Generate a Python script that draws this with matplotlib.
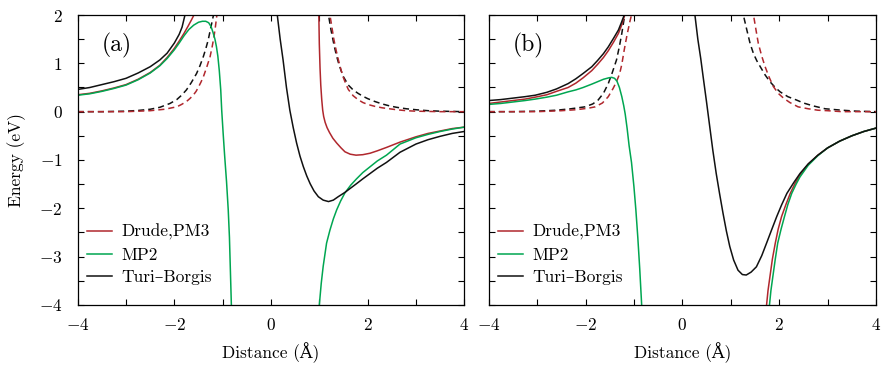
import matplotlib
matplotlib.use("Agg")
import matplotlib.pyplot as plt
from matplotlib.ticker import MultipleLocator

plt.rcParams['font.family'] = ['cmr10', 'DejaVu Serif']
plt.rcParams['mathtext.fontset'] = 'cm'
plt.rcParams['axes.formatter.use_mathtext'] = True

RED = '#b0272d'
GREEN = '#00a651'
BLACK = '#111111'

# ---------------- panel (a) ----------------
a_tb_left_x = [-4.0, -3.75, -3.5, -3.25, -3.0, -2.75, -2.5, -2.3, -2.15, -2.0, -1.9, -1.84, -1.78, -1.76]
a_tb_left_y = [0.46, 0.50, 0.56, 0.62, 0.69, 0.80, 0.93, 1.07, 1.21, 1.42, 1.60, 1.75, 2.00, 2.10]
a_dr_left_x = [-4.0, -3.75, -3.5, -3.25, -3.0, -2.75, -2.5, -2.3, -2.15, -2.0, -1.9, -1.8, -1.71,
               -1.64, -1.58, -1.55]
a_dr_left_y = [0.35, 0.38, 0.43, 0.49, 0.56, 0.67, 0.81, 0.96, 1.12, 1.31, 1.46, 1.62, 1.78,
               1.91, 2.03, 2.10]
a_mp_left_x = [-4.0, -3.75, -3.5, -3.25, -3.0, -2.75, -2.5, -2.3, -2.15, -2.0, -1.9, -1.8, -1.7,
               -1.6, -1.5, -1.42, -1.35, -1.29, -1.24, -1.2, -1.16, -1.13, -1.10, -1.07, -1.04,
               -1.02, -0.99, -0.96, -0.92, -0.885, -0.86, -0.84, -0.82, -0.815]
a_mp_left_y = [0.34, 0.37, 0.42, 0.48, 0.55, 0.66, 0.80, 0.95, 1.10, 1.28, 1.42, 1.57, 1.70,
               1.79, 1.85, 1.87, 1.87, 1.84, 1.76, 1.64, 1.50, 1.35, 1.15, 0.85, 0.45,
               0.03, -0.45, -0.90, -1.45, -2.03, -2.60, -3.30, -4.00, -4.20]
a_tbd_left_x = [-4.0, -3.5, -3.0, -2.75, -2.5, -2.3, -2.09, -1.95, -1.85, -1.75, -1.65, -1.54,
                -1.47, -1.40, -1.35, -1.30, -1.25, -1.19, -1.17]
a_tbd_left_y = [0.0, 0.0, 0.01, 0.025, 0.05, 0.09, 0.17, 0.25, 0.34, 0.45, 0.60, 0.79,
                0.95, 1.14, 1.30, 1.48, 1.72, 2.00, 2.15]
a_drd_left_x = [-4.0, -3.0, -2.5, -2.2, -1.95, -1.85, -1.75, -1.68, -1.61, -1.55, -1.50, -1.45,
                -1.40, -1.33, -1.26, -1.22, -1.18, -1.15, -1.12, -1.10]
a_drd_left_y = [0.0, 0.0, 0.02, 0.05, 0.10, 0.15, 0.21, 0.27, 0.34, 0.42, 0.51, 0.61,
                0.72, 0.92, 1.14, 1.33, 1.55, 1.76, 2.00, 2.15]

a_tb_right_x = [0.11, 0.13, 0.19, 0.25, 0.32, 0.39, 0.46, 0.53, 0.60, 0.67, 0.74, 0.81, 0.89,
                0.98, 1.08, 1.19, 1.29, 1.39, 1.53, 1.65, 1.77, 1.9, 2.05, 2.2, 2.39, 2.67,
                3.0, 3.25, 3.5, 3.75, 4.0]
a_tb_right_y = [2.2, 2.0, 1.5, 1.07, 0.5, 0.03, -0.33, -0.65, -0.92, -1.14, -1.33, -1.49, -1.64,
                -1.76, -1.83, -1.86, -1.83, -1.76, -1.67, -1.58, -1.49, -1.39, -1.28, -1.17,
                -1.05, -0.84, -0.67, -0.58, -0.51, -0.45, -0.41]
a_dr_right_x = [0.985, 0.99, 1.00, 1.015, 1.03, 1.05, 1.07, 1.09, 1.12, 1.16, 1.21, 1.28, 1.36,
                1.45, 1.53, 1.64, 1.76, 1.9, 2.05, 2.2, 2.39, 2.67, 3.0, 3.25, 3.5, 3.75, 4.0]
a_dr_right_y = [2.2, 2.0, 1.4, 0.90, 0.55, 0.25, 0.03, -0.10, -0.22, -0.33, -0.43, -0.55, -0.65,
                -0.75, -0.83, -0.88, -0.90, -0.89, -0.86, -0.81, -0.74, -0.63, -0.52, -0.45,
                -0.40, -0.35, -0.32]
a_mp_right_x = [0.99, 1.0, 1.04, 1.08, 1.15, 1.22, 1.29, 1.36, 1.44, 1.53, 1.65, 1.77, 1.9, 2.05,
                2.2, 2.39, 2.67, 3.0, 3.25, 3.5, 3.75, 4.0]
a_mp_right_y = [-4.2, -4.0, -3.55, -3.2, -2.72, -2.45, -2.22, -2.03, -1.85, -1.68, -1.52, -1.39,
                -1.26, -1.14, -1.02, -0.90, -0.67, -0.54, -0.47, -0.41, -0.36, -0.32]
a_tbd_right_x = [1.17, 1.19, 1.24, 1.30, 1.35, 1.40, 1.45, 1.50, 1.60, 1.70, 1.80, 1.90, 2.0,
                 2.15, 2.3, 2.45, 2.6, 2.8, 3.0, 3.25, 3.5, 4.0]
a_tbd_right_y = [2.15, 2.0, 1.70, 1.40, 1.18, 1.00, 0.85, 0.72, 0.55, 0.45, 0.38, 0.32, 0.27,
                 0.21, 0.16, 0.12, 0.09, 0.06, 0.04, 0.02, 0.01, 0.0]
a_drd_right_x = [1.20, 1.22, 1.26, 1.30, 1.35, 1.40, 1.45, 1.50, 1.55, 1.60, 1.70, 1.80, 1.90,
                 2.0, 2.15, 2.3, 2.45, 2.6, 2.8, 3.0, 3.5, 4.0]
a_drd_right_y = [2.15, 2.0, 1.75, 1.50, 1.26, 1.05, 0.86, 0.70, 0.57, 0.46, 0.33, 0.25, 0.19,
                 0.15, 0.11, 0.08, 0.06, 0.04, 0.02, 0.01, 0.0, 0.0]

# ---------------- panel (b) ----------------
b_tb_left_x = [-4.0, -3.75, -3.5, -3.25, -3.04, -2.8, -2.6, -2.36, -2.2, -2.05, -1.87, -1.75,
               -1.63, -1.53, -1.42, -1.32, -1.26, -1.20, -1.18]
b_tb_left_y = [0.23, 0.25, 0.28, 0.31, 0.34, 0.40, 0.47, 0.58, 0.68, 0.79, 0.93, 1.06,
               1.20, 1.34, 1.52, 1.69, 1.84, 2.00, 2.10]
b_dr_left_x = [-4.0, -3.75, -3.5, -3.25, -3.04, -2.8, -2.6, -2.36, -2.2, -2.05, -1.87, -1.75,
               -1.63, -1.53, -1.42, -1.32, -1.25, -1.19, -1.17]
b_dr_left_y = [0.17, 0.20, 0.23, 0.26, 0.30, 0.35, 0.42, 0.50, 0.59, 0.70, 0.85, 0.98,
               1.12, 1.26, 1.44, 1.62, 1.80, 2.00, 2.10]
b_mp_left_x = [-4.0, -3.75, -3.5, -3.25, -3.04, -2.8, -2.6, -2.36, -2.2, -2.05, -1.87, -1.75,
               -1.63, -1.52, -1.46, -1.40, -1.35, -1.30, -1.25, -1.21, -1.18, -1.14, -1.10,
               -1.05, -1.00, -0.96, -0.92, -0.88, -0.84, -0.83]
b_mp_left_y = [0.15, 0.17, 0.20, 0.23, 0.26, 0.30, 0.34, 0.41, 0.45, 0.50, 0.57, 0.62,
               0.67, 0.70, 0.71, 0.69, 0.63, 0.50, 0.31, 0.12, -0.05, -0.35, -0.70,
               -1.05, -1.55, -2.03, -2.60, -3.25, -4.00, -4.20]
b_tbd_left_x = [-4.0, -3.5, -3.0, -2.6, -2.3, -2.01, -1.85, -1.74, -1.63, -1.53, -1.45, -1.40,
                -1.36, -1.30, -1.25, -1.19, -1.17]
b_tbd_left_y = [0.0, 0.0, 0.01, 0.03, 0.06, 0.10, 0.16, 0.24, 0.38, 0.58, 0.80, 0.95,
                1.07, 1.35, 1.62, 2.00, 2.15]
b_drd_left_x = [-4.0, -3.0, -2.5, -2.2, -1.95, -1.80, -1.65, -1.53, -1.43, -1.37, -1.32, -1.28,
                -1.25, -1.20, -1.14, -1.08, -1.05, -1.03]
b_drd_left_y = [0.0, 0.0, 0.02, 0.04, 0.07, 0.10, 0.18, 0.31, 0.48, 0.60, 0.72, 0.85,
                0.98, 1.28, 1.60, 1.88, 2.00, 2.15]

b_tb_right_x = [0.23, 0.26, 0.32, 0.38, 0.43, 0.50, 0.57, 0.63, 0.70, 0.77, 0.84, 0.91, 0.98,
                1.06, 1.15, 1.24, 1.32, 1.42, 1.53, 1.64, 1.74, 1.85, 1.95, 2.05, 2.16, 2.3,
                2.43, 2.6, 2.8, 3.0, 3.25, 3.5, 3.75, 4.0]
b_tb_right_y = [2.2, 2.0, 1.5, 1.1, 0.72, 0.2, -0.34, -0.80, -1.28, -1.70, -2.10, -2.47, -2.79,
                -3.07, -3.28, -3.37, -3.38, -3.32, -3.21, -2.98, -2.72, -2.43, -2.17, -1.93,
                -1.69, -1.47, -1.28, -1.08, -0.90, -0.75, -0.61, -0.50, -0.41, -0.34]
b_dr_right_x = [1.72, 1.74, 1.77, 1.81, 1.86, 1.92, 1.98, 2.05, 2.14, 2.23, 2.33, 2.43, 2.6,
                2.8, 3.0, 3.25, 3.5, 3.75, 4.0]
b_dr_right_y = [-4.2, -4.0, -3.7, -3.41, -3.05, -2.72, -2.43, -2.17, -1.92, -1.69, -1.48, -1.31,
                -1.09, -0.90, -0.75, -0.61, -0.50, -0.41, -0.34]
b_mp_right_x = [1.78, 1.80, 1.83, 1.87, 1.92, 1.97, 2.04, 2.11, 2.18, 2.26, 2.35, 2.43, 2.6,
                2.8, 3.0, 3.25, 3.5, 3.75, 4.0]
b_mp_right_y = [-4.2, -4.0, -3.7, -3.41, -3.05, -2.72, -2.43, -2.17, -1.92, -1.69, -1.50, -1.35,
                -1.11, -0.91, -0.75, -0.61, -0.50, -0.41, -0.34]
b_tbd_right_x = [1.24, 1.26, 1.33, 1.40, 1.47, 1.54, 1.61, 1.71, 1.81, 1.91, 2.02, 2.18, 2.36,
                 2.5, 2.7, 2.95, 3.3, 3.6, 4.0]
b_tbd_right_y = [2.15, 2.0, 1.70, 1.41, 1.20, 1.05, 0.93, 0.76, 0.62, 0.51, 0.41, 0.31, 0.24,
                 0.18, 0.12, 0.06, 0.03, 0.01, 0.0]
b_drd_right_x = [1.45, 1.47, 1.52, 1.57, 1.64, 1.71, 1.79, 1.88, 1.98, 2.09, 2.22, 2.39, 2.6,
                 2.8, 3.0, 3.3, 4.0]
b_drd_right_y = [2.15, 2.0, 1.70, 1.41, 1.15, 0.93, 0.72, 0.52, 0.38, 0.28, 0.19, 0.10, 0.06,
                 0.03, 0.02, 0.0, 0.0]

labels = ['Drude,PM3', 'MP2', 'Turi\u2013Borgis']
xticks = [-4, -2, 0, 2, 4]
yticks = [-4, -3, -2, -1, 0, 1, 2]

fig = plt.figure(figsize=(8.81, 3.65), dpi=100)
ax_a = fig.add_axes([0.0882, 0.1644, 0.4388, 0.7945])
ax_b = fig.add_axes([0.5547, 0.1644, 0.4396, 0.7945])

lw = 1.1
dash = (0, (4.0, 2.6))
FS = 12.5

panels = [
    (ax_a, '(a)',
     [(a_tb_left_x, a_tb_left_y), (a_tb_right_x, a_tb_right_y)],
     [(a_dr_left_x, a_dr_left_y), (a_dr_right_x, a_dr_right_y)],
     [(a_mp_left_x, a_mp_left_y), (a_mp_right_x, a_mp_right_y)],
     [(a_tbd_left_x, a_tbd_left_y), (a_tbd_right_x, a_tbd_right_y)],
     [(a_drd_left_x, a_drd_left_y), (a_drd_right_x, a_drd_right_y)]),
    (ax_b, '(b)',
     [(b_tb_left_x, b_tb_left_y), (b_tb_right_x, b_tb_right_y)],
     [(b_dr_left_x, b_dr_left_y), (b_dr_right_x, b_dr_right_y)],
     [(b_mp_left_x, b_mp_left_y), (b_mp_right_x, b_mp_right_y)],
     [(b_tbd_left_x, b_tbd_left_y), (b_tbd_right_x, b_tbd_right_y)],
     [(b_drd_left_x, b_drd_left_y), (b_drd_right_x, b_drd_right_y)]),
]

for ax, tag, tb, dr, mp, tbd, drd in panels:
    for (x, y) in tbd:
        ax.plot(x, y, color=BLACK, lw=lw, linestyle=dash)
    for (x, y) in drd:
        ax.plot(x, y, color=RED, lw=lw, linestyle=dash)
    h_dr = h_mp = h_tb = None
    for (x, y) in dr:
        h_dr, = ax.plot(x, y, color=RED, lw=lw)
    for (x, y) in mp:
        h_mp, = ax.plot(x, y, color=GREEN, lw=lw)
    for (x, y) in tb:
        h_tb, = ax.plot(x, y, color=BLACK, lw=lw)
    ax.set_xlim(-4, 4)
    ax.set_ylim(-4, 2)
    ax.set_xticks(xticks)
    ax.xaxis.set_minor_locator(MultipleLocator(1))
    ax.set_yticks(yticks)
    ax.yaxis.set_minor_locator(MultipleLocator(0.5))
    ax.tick_params(which='both', direction='in', top=True, right=True,
                   length=4, width=0.8, labelsize=FS)
    ax.tick_params(axis='x', which='both', pad=9)
    ax.tick_params(axis='y', which='both', pad=11)
    for s in ax.spines.values():
        s.set_linewidth(0.9)
    ax.set_xlabel('Distance (\u00c5)', fontsize=FS)
    ax.xaxis.set_label_coords(0.5, -0.13)
    ax.text(0.102, 0.895, tag, transform=ax.transAxes, fontsize=17, va='center', ha='center')
    ax.legend([h_dr, h_mp, h_tb], labels, loc='lower left', frameon=False,
              fontsize=FS, handlelength=1.45, handletextpad=0.55, labelspacing=0.42,
              borderpad=0, borderaxespad=0, bbox_to_anchor=(0.024, 0.068))

ax_b.tick_params(labelleft=False)
ax_a.set_ylabel('Energy (eV)', fontsize=FS)
ax_a.yaxis.set_label_coords(-0.135, 0.5)

fig.savefig('out.png', dpi=100)
